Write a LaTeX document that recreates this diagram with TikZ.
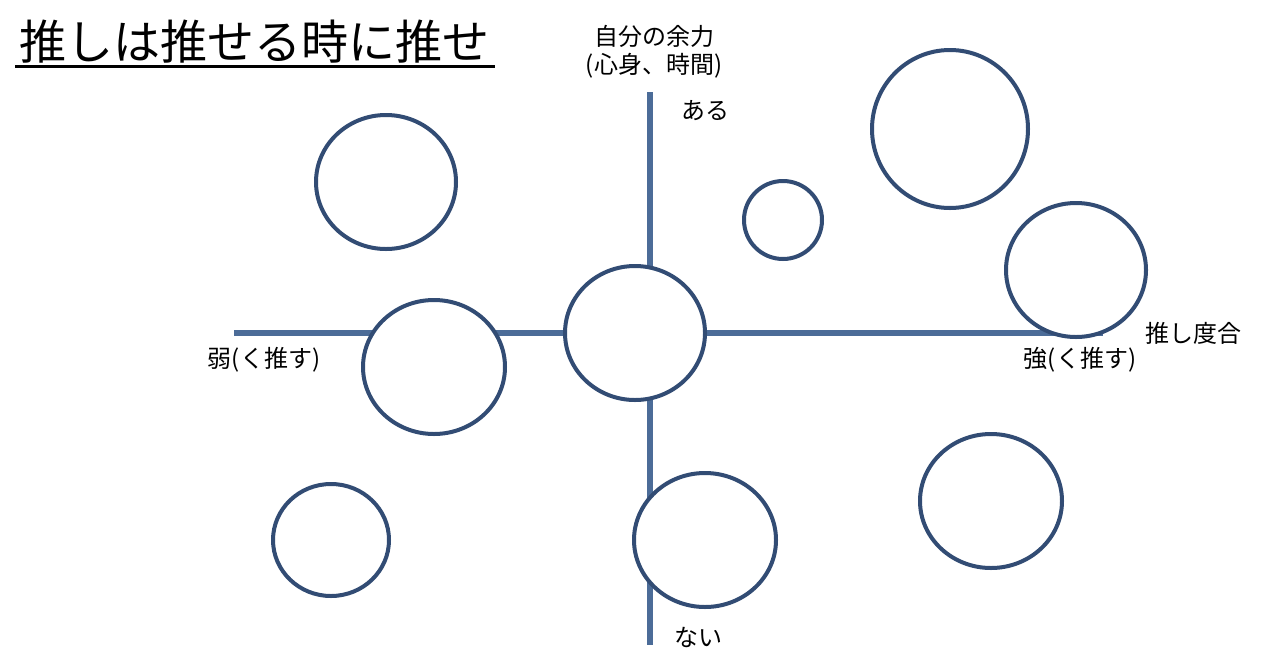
\documentclass[tikz,border=0pt]{standalone}
\usepackage{fontspec}
\setmainfont{Noto Sans CJK JP}
\usetikzlibrary{shapes.geometric}
\definecolor{axisblue}{RGB}{76,108,152}
\definecolor{ringblue}{RGB}{50,76,116}
\tikzset{
  axis/.style={axisblue,line width=3pt},
  ring/.style={ellipse,draw=ringblue,line width=2pt,fill=white,inner sep=0pt,outer sep=0pt},
  lbl/.style={font=\fontsize{12}{14}\selectfont,inner sep=0pt,align=center}
}
\begin{document}
\begin{tikzpicture}[x=0.5pt,y=-0.5pt]
  \useasboundingbox[fill=white] (0,0) rectangle (1280,670);
  % axes
  \coordinate (top) at (650,92);
  \coordinate (bottom) at (650,645);
  \coordinate (left) at (234,333);
  \coordinate (right) at (1103,333);
  \draw[axis] (top) -- (bottom);
  \draw[axis] (left) -- (right);
  % circles (sizes in pt, half the pixel size)
  \node[ring,minimum width=70pt,minimum height=67pt] (c1) at (386,182) {};
  \node[ring,minimum width=39pt,minimum height=39pt] (c2) at (783,220) {};
  \node[ring,minimum width=78pt,minimum height=79pt] (c3) at (950,129) {};
  \node[ring,minimum width=70pt,minimum height=67pt] (c4) at (1076,270) {};
  \node[ring,minimum width=70pt,minimum height=67pt] (c5) at (635,333) {};
  \node[ring,minimum width=71pt,minimum height=67pt] (c6) at (434,367) {};
  \node[ring,minimum width=58pt,minimum height=56pt] (c7) at (331,540) {};
  \node[ring,minimum width=71pt,minimum height=67pt] (c8) at (705,540) {};
  \node[ring,minimum width=71pt,minimum height=67pt] (c9) at (991,501) {};
  % labels
  \node[lbl,font=\fontsize{23.5}{26}\selectfont] (title) at (254,42) {推しは推せる時に推せ};
  \coordinate (ul1) at (15,66);
  \coordinate (ul2) at (495,66);
  \draw[line width=1.5pt] (ul1) -- (ul2);
  \node[lbl] (yname) at (654,52) {自分の余力\\(心身、時間)};
  \node[lbl] (yhigh) at (705,111) {ある};
  \node[lbl] (ylow) at (698,637) {ない};
  \node[lbl] (xlow) at (264,360) {弱(く推す)};
  \node[lbl] (xhigh) at (1080,360) {強(く推す)};
  \node[lbl] (xname) at (1193,333) {推し度合};
\end{tikzpicture}
\end{document}
